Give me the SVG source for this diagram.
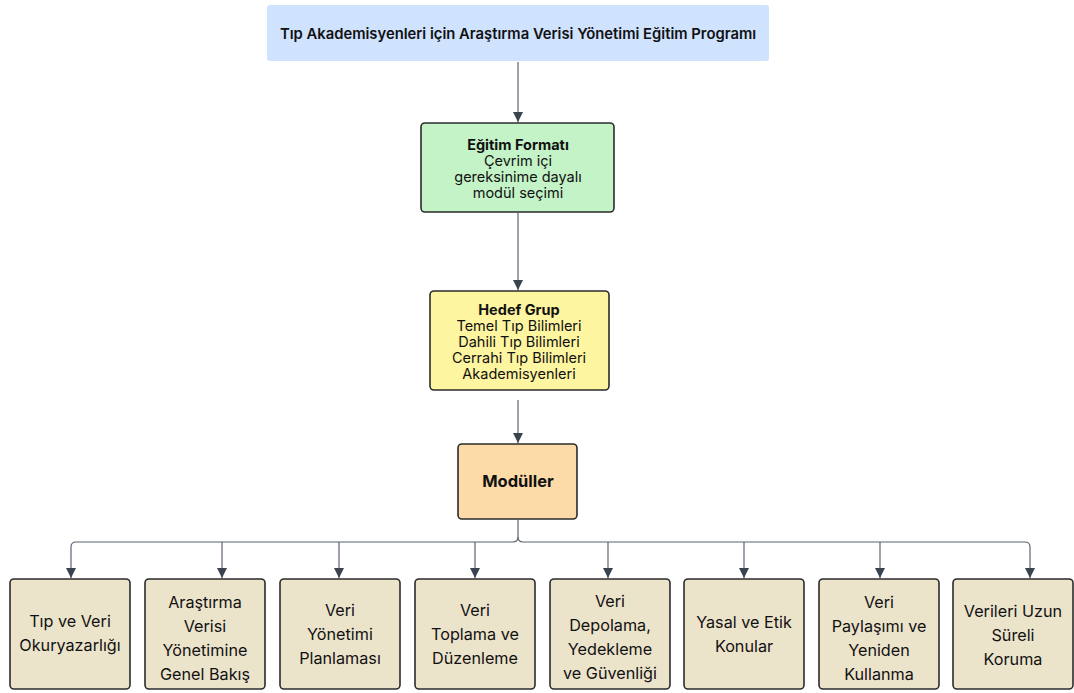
<svg xmlns="http://www.w3.org/2000/svg" width="1074" height="693" viewBox="0 0 1074 693">
  <style>
    text { font-family: Inter, "Noto Sans", "Liberation Sans", sans-serif; fill: #111; text-anchor: middle; }
    .t { font-size: 14.5px; }
    .b { font-weight: 700; }
    .m { font-size: 16.2px; }
    .box { stroke: #2b2b2b; stroke-width: 1.6; }
    .mod { fill: #ece3cb; }
    .edge { fill: none; stroke: #5b6472; stroke-width: 1.2; }
  </style>
  <defs>
    <marker id="arrow" viewBox="0 0 10 10" refX="10" refY="5" markerWidth="10" markerHeight="10" markerUnits="userSpaceOnUse" orient="auto">
      <path d="M0,0 L10,5 L0,10 z" fill="#3b4350"/>
    </marker>
  </defs>
  <rect width="1074" height="693" fill="#ffffff"/>

  <g id="connectors">
    <path class="edge" d="M518 62 V122" marker-end="url(#arrow)"/>
    <path class="edge" d="M518 213 V290" marker-end="url(#arrow)"/>
    <path class="edge" d="M518 400 V443" marker-end="url(#arrow)"/>
    <path class="edge" d="M518 520 V537 Q518 542 513 542 H76 Q71 542 71 547 V578" marker-end="url(#arrow)"/>
    <path class="edge" d="M518 537 Q518 542 523 542 H1025 Q1030 542 1030 547 V578" marker-end="url(#arrow)"/>
    <path class="edge" d="M222 542 V578" marker-end="url(#arrow)"/>
    <path class="edge" d="M339 542 V578" marker-end="url(#arrow)"/>
    <path class="edge" d="M475 542 V578" marker-end="url(#arrow)"/>
    <path class="edge" d="M608 542 V578" marker-end="url(#arrow)"/>
    <path class="edge" d="M744 542 V578" marker-end="url(#arrow)"/>
    <path class="edge" d="M880 542 V578" marker-end="url(#arrow)"/>
  </g>

  <g id="title">
    <rect x="267" y="5" width="502" height="56" rx="3" fill="#cfe2fe"/>
    <text x="518" y="39" font-size="14.8px" font-weight="600">Tıp Akademisyenleri için Araştırma Verisi Yönetimi Eğitim Programı</text>
  </g>

  <g id="format">
    <rect class="box" x="421" y="123" width="193" height="89" rx="4" fill="#c3f3c6"/>
    <text class="t b" x="518" y="150">Eğitim Formatı</text>
    <text class="t" x="518" y="166">Çevrim içi</text>
    <text class="t" x="518" y="182">gereksinime dayalı</text>
    <text class="t" x="518" y="198">modül seçimi</text>
  </g>

  <g id="target">
    <rect class="box" x="430" y="291" width="179" height="99" rx="4" fill="#fef5a0"/>
    <text class="t b" x="519" y="315">Hedef Grup</text>
    <text class="t" x="519" y="331">Temel Tıp Bilimleri</text>
    <text class="t" x="519" y="347">Dahili Tıp Bilimleri</text>
    <text class="t" x="519" y="363">Cerrahi Tıp Bilimleri</text>
    <text class="t" x="519" y="379">Akademisyenleri</text>
  </g>

  <g id="modules">
    <rect class="box" x="458" y="444" width="119" height="75" rx="4" fill="#fddba9"/>
    <text class="b" x="518" y="487" font-size="16.5px">Modüller</text>
  </g>

  <g id="m1">
    <rect class="box mod" x="10" y="579" width="120" height="110" rx="4"/>
    <text class="m" x="70" y="627">Tıp ve Veri</text>
    <text class="m" x="70" y="651">Okuryazarlığı</text>
  </g>
  <g id="m2">
    <rect class="box mod" x="145" y="579" width="120" height="110" rx="4"/>
    <text class="m" x="205" y="608">Araştırma</text>
    <text class="m" x="205" y="632">Verisi</text>
    <text class="m" x="205" y="656">Yönetimine</text>
    <text class="m" x="205" y="680">Genel Bakış</text>
  </g>
  <g id="m3">
    <rect class="box mod" x="280" y="579" width="120" height="110" rx="4"/>
    <text class="m" x="340" y="616">Veri</text>
    <text class="m" x="340" y="640">Yönetimi</text>
    <text class="m" x="340" y="664">Planlaması</text>
  </g>
  <g id="m4">
    <rect class="box mod" x="415" y="579" width="120" height="110" rx="4"/>
    <text class="m" x="475" y="616">Veri</text>
    <text class="m" x="475" y="640">Toplama ve</text>
    <text class="m" x="475" y="664">Düzenleme</text>
  </g>
  <g id="m5">
    <rect class="box mod" x="550" y="579" width="120" height="110" rx="4"/>
    <text class="m" x="610" y="607">Veri</text>
    <text class="m" x="610" y="631">Depolama,</text>
    <text class="m" x="610" y="655">Yedekleme</text>
    <text class="m" x="610" y="679">ve Güvenliği</text>
  </g>
  <g id="m6">
    <rect class="box mod" x="684" y="579" width="120" height="110" rx="4"/>
    <text class="m" x="744" y="628">Yasal ve Etik</text>
    <text class="m" x="744" y="652">Konular</text>
  </g>
  <g id="m7">
    <rect class="box mod" x="819" y="579" width="120" height="110" rx="4"/>
    <text class="m" x="879" y="608">Veri</text>
    <text class="m" x="879" y="632">Paylaşımı ve</text>
    <text class="m" x="879" y="656">Yeniden</text>
    <text class="m" x="879" y="680">Kullanma</text>
  </g>
  <g id="m8">
    <rect class="box mod" x="953" y="579" width="120" height="110" rx="4"/>
    <text class="m" x="1013" y="617">Verileri Uzun</text>
    <text class="m" x="1013" y="641">Süreli</text>
    <text class="m" x="1013" y="665">Koruma</text>
  </g>
</svg>
